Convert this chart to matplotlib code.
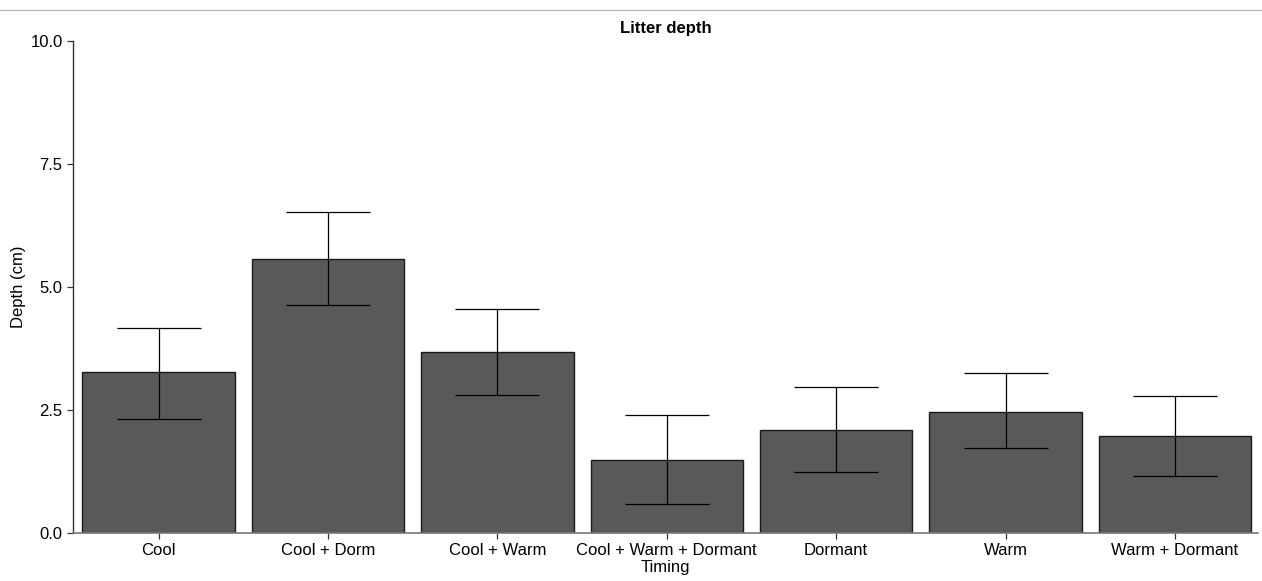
import numpy as np
import matplotlib.pyplot as plt
from matplotlib.lines import Line2D

# data
timing = ['Cool', 'Cool + Dorm', 'Cool + Warm', 'Cool + Warm + Dormant',
          'Dormant', 'Warm', 'Warm + Dormant']
depth = [3.27, 5.57, 3.68, 1.48, 2.09, 2.45, 1.97]
err_low = [2.32, 4.63, 2.80, 0.59, 1.25, 1.73, 1.15]
err_high = [4.17, 6.52, 4.55, 2.40, 2.97, 3.25, 2.78]

plt.rcParams['font.family'] = ['Liberation Sans', 'DejaVu Sans']

fig = plt.figure(figsize=(12.62, 5.81), dpi=100)
ax = fig.add_axes([73 / 1262, 1 - 533 / 581, (1258 - 73) / 1262, (533 - 41) / 581])

x = np.arange(len(timing))
ax.bar(x, depth, width=0.9, color='#595959', edgecolor='#1a1a1a', linewidth=1.0, zorder=2)
d = np.array(depth)
yerr = [d - np.array(err_low), np.array(err_high) - d]
ax.errorbar(x, depth, yerr=yerr, fmt='none', ecolor='black', elinewidth=0.9,
            capsize=30.5, capthick=0.9, zorder=3)

ax.set_xlim(-0.505, 6.49)
ax.set_ylim(0, 10)
ax.set_yticks([0, 2.5, 5, 7.5, 10])
ax.set_yticklabels(['0.0', '2.5', '5.0', '7.5', '10.0'])
ax.set_xticks(x)
ax.set_xticklabels(timing)
ax.tick_params(labelsize=12, colors='#333333', labelcolor='black', length=4, width=0.9)

for s in ['top', 'right']:
    ax.spines[s].set_visible(False)
ax.spines['left'].set_color('#333333')
ax.spines['bottom'].set_color('#777777')
ax.spines['left'].set_linewidth(1.0)
ax.spines['bottom'].set_linewidth(1.2)

ax.set_xlabel('Timing', fontsize=12, labelpad=1)
ax.set_ylabel('Depth (cm)', fontsize=12, labelpad=3)
ax.set_title('Litter depth', fontsize=12, fontweight='bold', pad=6)

fig.add_artist(Line2D([0, 1], [1 - 10 / 581, 1 - 10 / 581], color='#bbbbbb', linewidth=1.0,
                      transform=fig.transFigure))

fig.savefig('out.png', dpi=100)
